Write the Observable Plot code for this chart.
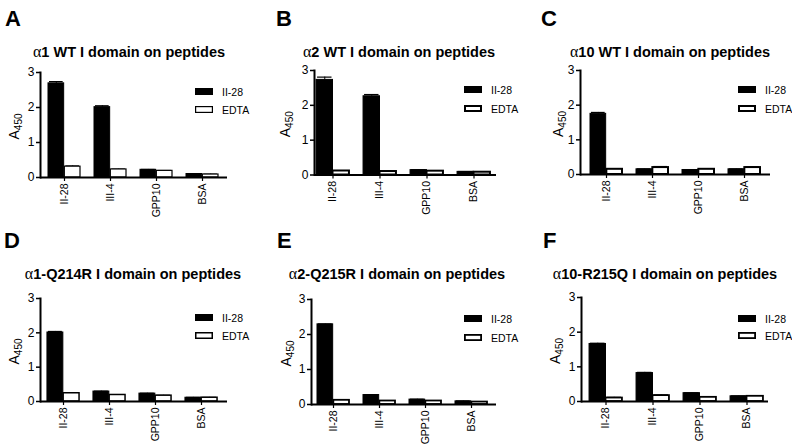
<!DOCTYPE html>
<html><head><meta charset="utf-8">
<script src="https://cdn.jsdelivr.net/npm/d3@7"></script>
<script src="https://cdn.jsdelivr.net/npm/@observablehq/plot@0.6"></script>
<style>
body{margin:0;background:#fff;}
#root{position:relative;width:792px;height:444px;overflow:hidden;background:#fff;}
.panel{position:absolute;width:264px;height:222px;}
.panel svg{position:absolute;left:0;top:0;overflow:visible;}
</style>
</head><body><div id="root"></div>
<script>
const peptides = ["II-28", "III-4", "GPP10", "BSA"];
const seriesNames = ["II-28", "EDTA"];
const panelLetters = ["A", "B", "C", "D", "E", "F"];
const panelSubjects = ["1 WT", "2 WT", "10 WT", "1-Q214R", "2-Q215R", "10-R215Q"];
const titleSuffix = " I domain on peptides";
const yTicks = [0, 1, 2, 3];

// A: α1 WT
const a1WT_II28 = [2.69, 2.01, 0.22, 0.10];
const a1WT_II28_err = [0.05, 0.04, 0.01, 0.01];
const a1WT_EDTA = [0.31, 0.23, 0.19, 0.085];
const a1WT_EDTA_err = [0.02, 0.01, 0.01, 0.01];
// B: α2 WT
const a2WT_II28 = [2.73, 2.26, 0.14, 0.09];
const a2WT_II28_err = [0.08, 0.05, 0.01, 0.01];
const a2WT_EDTA = [0.115, 0.10, 0.11, 0.08];
const a2WT_EDTA_err = [0.01, 0.01, 0.01, 0.01];
// C: α10 WT
const a10WT_II28 = [1.75, 0.15, 0.13, 0.15];
const a10WT_II28_err = [0.04, 0.01, 0.01, 0.01];
const a10WT_EDTA = [0.15, 0.20, 0.15, 0.20];
const a10WT_EDTA_err = [0.01, 0.03, 0.02, 0.02];
// D: α1-Q214R
const a1Q_II28 = [2.01, 0.29, 0.23, 0.11];
const a1Q_II28_err = [0.03, 0.01, 0.01, 0.01];
const a1Q_EDTA = [0.24, 0.19, 0.17, 0.11];
const a1Q_EDTA_err = [0.01, 0.01, 0.01, 0.01];
// E: α2-Q215R
const a2Q_II28 = [2.29, 0.27, 0.14, 0.09];
const a2Q_II28_err = [0.01, 0.01, 0.01, 0.01];
const a2Q_EDTA = [0.12, 0.10, 0.10, 0.07];
const a2Q_EDTA_err = [0.01, 0.01, 0.01, 0.01];
// F: α10-R215Q
const a10R_II28 = [1.66, 0.82, 0.24, 0.15];
const a10R_II28_err = [0.02, 0.02, 0.01, 0.01];
const a10R_EDTA = [0.10, 0.17, 0.12, 0.15];
const a10R_EDTA_err = [0.02, 0.02, 0.02, 0.01];

const panelData = [
  [a1WT_II28, a1WT_II28_err, a1WT_EDTA, a1WT_EDTA_err],
  [a2WT_II28, a2WT_II28_err, a2WT_EDTA, a2WT_EDTA_err],
  [a10WT_II28, a10WT_II28_err, a10WT_EDTA, a10WT_EDTA_err],
  [a1Q_II28, a1Q_II28_err, a1Q_EDTA, a1Q_EDTA_err],
  [a2Q_II28, a2Q_II28_err, a2Q_EDTA, a2Q_EDTA_err],
  [a10R_II28, a10R_II28_err, a10R_EDTA, a10R_EDTA_err]
];

// layout per panel (panel-relative pixels)
const layouts = [
  {ox:0,   oy:0,   axisX:40, xEnd:227, first:63, last:203, y3:72, y0:177, sw:1.2, lx:195, ly:88, ly2:106, ylx:15, tx:129, letterX:5},
  {ox:264, oy:0,   axisX:50, xEnd:232, first:68, last:209, y3:70, y0:174.5, sw:2, lx:200, ly:86, ly2:105, ylx:22, tx:135, letterX:12},
  {ox:528, oy:0,   axisX:52, xEnd:242, first:77, last:217, y3:70, y0:174, sw:2, lx:210, ly:86, ly2:105, ylx:31, tx:142, letterX:13},
  {ox:0,   oy:222, axisX:40, xEnd:227, first:63, last:202, y3:76, y0:179, sw:1.5, lx:195, ly:92, ly2:110, ylx:15, tx:133, letterX:4},
  {ox:264, oy:222, axisX:47, xEnd:232, first:68, last:208, y3:77, y0:182, sw:1.8, lx:200, ly:93, ly2:112, ylx:23, tx:133, letterX:13},
  {ox:528, oy:222, axisX:53, xEnd:240, first:77, last:218, y3:75, y0:179, sw:1.8, lx:210, ly:93, ly2:110, ylx:28, tx:137, letterX:15}
];

const FONT = "Liberation Sans, Arial, Helvetica, sans-serif";
const root = document.getElementById("root");

layouts.forEach((L, k) => {
  const [blk, blkErr, wht, whtErr] = panelData[k];
  const blackRows = peptides.map((p, i) => ({peptide: p, value: blk[i], top: blk[i] + blkErr[i]}));
  const whiteRows = peptides.map((p, i) => ({peptide: p, value: wht[i], top: wht[i] + whtErr[i]}));
  const s = (L.last - L.first) / 3;
  const half = s / 2, outer = s * 0.15;
  const W = 264, H = 222;
  const svg = Plot.plot({
    width: W, height: H,
    marginLeft: L.axisX, marginRight: W - L.xEnd, marginTop: L.y3, marginBottom: H - L.y0,
    style: {fontFamily: FONT, background: "transparent", color: "black"},
    x: {domain: peptides, range: [L.first - half, L.last + half], padding: 0, axis: null},
    y: {domain: [0, 3], axis: null},
    marks: [
      Plot.ruleX(blackRows, {x: "peptide", y1: "value", y2: "top", stroke: "black", dx: -(half - outer) / 2}),
      Plot.ruleX(whiteRows, {x: "peptide", y1: "value", y2: "top", stroke: "black", dx: (half - outer) / 2}),
      Plot.tickY(blackRows, {x: "peptide", y: "top", stroke: "black", strokeWidth: 1.2, insetLeft: outer + 1, insetRight: half + 1}),
      Plot.tickY(whiteRows, {x: "peptide", y: "top", stroke: "black", strokeWidth: 1.2, insetLeft: half + 1, insetRight: outer + 1}),
      Plot.barY(blackRows, {x: "peptide", y: "value", fill: "black", stroke: "black", strokeWidth: 1, insetLeft: outer, insetRight: half}),
      Plot.barY(whiteRows, {x: "peptide", y: "value", fill: "white", stroke: "black", strokeWidth: L.sw, insetLeft: half, insetRight: outer}),
      Plot.ruleY([0], {stroke: "black", strokeWidth: 2}),
      Plot.axisY({ticks: yTicks, tickSize: 4, tickPadding: 2, fontSize: 12, strokeWidth: 1.5, label: null, tickFormat: d3.format("d")}),
      Plot.axisX({tickSize: 4, tickPadding: 2, tickRotate: -90, fontSize: 10.5, strokeWidth: 1.2, label: null}),
      Plot.frame({anchor: "left", stroke: "black", strokeWidth: 2})
    ]
  });
  const div = document.createElement("div");
  div.className = "panel";
  div.style.left = L.ox + "px";
  div.style.top = L.oy + "px";
  div.appendChild(svg);
  root.appendChild(div);

  const g = d3.select(svg).append("g").attr("font-family", FONT).attr("fill", "black").attr("text-anchor", "start");
  // panel letter
  g.append("text").attr("x", L.letterX).attr("y", 26).attr("font-size", 22).attr("font-weight", "bold").text(panelLetters[k]);
  // title
  const t = g.append("text").attr("x", L.tx).attr("y", 57).attr("text-anchor", "middle")
    .attr("font-size", 14.5).attr("font-weight", "bold");
  t.append("tspan").attr("font-family", "Liberation Serif, DejaVu Serif, serif").attr("font-weight", "normal").attr("font-size", 16).text("α");
  t.append("tspan").text(panelSubjects[k] + titleSuffix);
  // y label
  const ym = (L.y3 + L.y0) / 2 + 2;
  const yl = g.append("text").attr("transform", `translate(${L.ylx + 4},${ym}) rotate(-90)`).attr("text-anchor", "middle").attr("font-size", 14);
  yl.append("tspan").text("A");
  yl.append("tspan").attr("font-size", 10).attr("dy", 3).text("450");
  // legend
  g.append("rect").attr("x", L.lx).attr("y", L.ly).attr("width", 18).attr("height", 7).attr("fill", "black");
  g.append("text").attr("x", L.lx + 27).attr("y", L.ly + 7.5).attr("font-size", 10.5).text(seriesNames[0]);
  g.append("rect").attr("x", L.lx + L.sw / 2).attr("y", L.ly2 + L.sw / 2).attr("width", 18 - L.sw).attr("height", 7 - L.sw)
    .attr("fill", "white").attr("stroke", "black").attr("stroke-width", L.sw);
  g.append("text").attr("x", L.lx + 27).attr("y", L.ly2 + 7.5).attr("font-size", 10.5).text(seriesNames[1]);
});
</script>
</body></html>
